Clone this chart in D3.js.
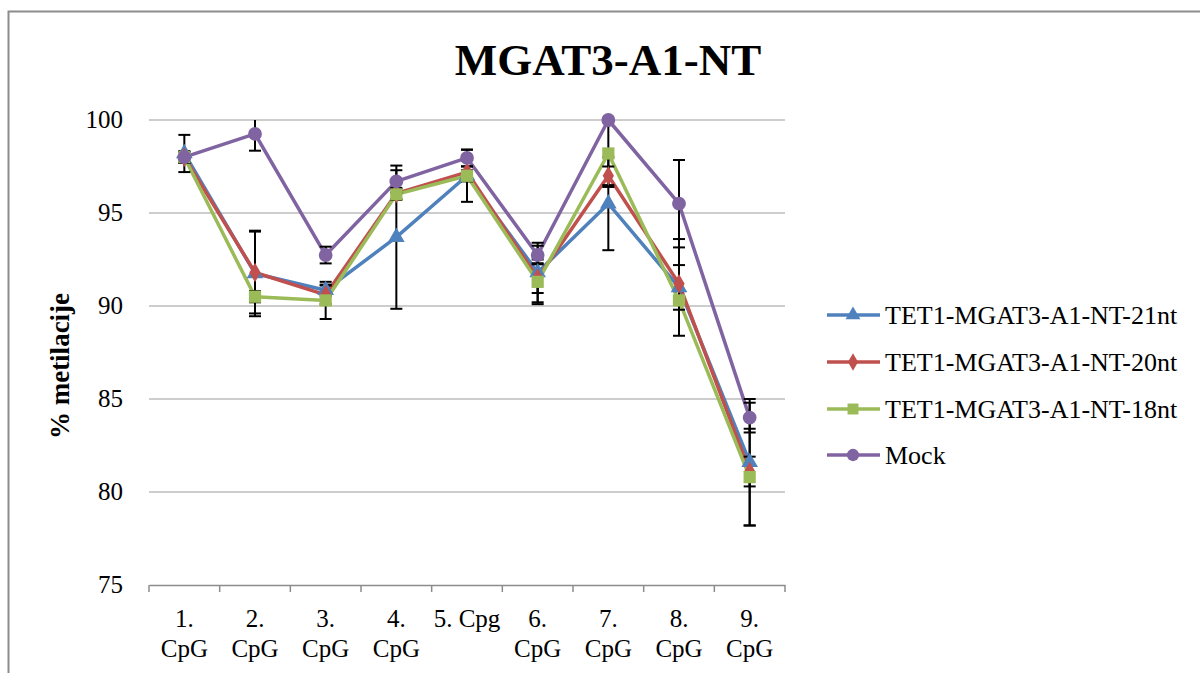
<!DOCTYPE html>
<html>
<head>
<meta charset="utf-8">
<script src="https://cdn.jsdelivr.net/npm/d3@7"></script>
<style>
  body { margin:0; background:#fff; }
  text { font-family: "Liberation Serif", "DejaVu Serif", serif; fill:#000; }
</style>
</head>
<body>
<div id="chart"></div>
<script>
const width = 1200, height = 673;

const categories = ["1. CpG","2. CpG","3. CpG","4. CpG","5. Cpg","6. CpG","7. CpG","8. CpG","9. CpG"];
const yTicks = [75, 80, 85, 90, 95, 100];

const seriesNames = ["TET1-MGAT3-A1-NT-21nt","TET1-MGAT3-A1-NT-20nt","TET1-MGAT3-A1-NT-18nt","Mock"];
const colors = ["#4F81BD","#C0504D","#9BBB59","#8064A2"];
const symbols = [d3.symbolTriangle, d3.symbolDiamond, d3.symbolSquare, d3.symbolCircle];

const val21 = [98.2, 91.75, 90.85, 93.7, 97.0, 91.8, 95.5, 91.0, 81.6];
const val20 = [98.0, 91.8, 90.6, 96.05, 97.2, 91.5, 97.0, 91.2, 81.1];
const val18 = [98.0, 90.5, 90.3, 96.0, 97.0, 91.3, 98.2, 90.3, 80.8];
const valMock = [98.0, 99.25, 92.74, 96.7, 97.96, 92.74, 100, 95.5, 84.0];

const err21 = [1.0, 2.3, 0.3, 3.85, 1.4, 1.6, 2.5, 2.6, 3.4];
const err20 = [0.3, 2.2, 0.5, 0.3, 0.3, 0.8, 0.5, 1.0, 0.8];
const err18 = [0.3, 0.3, 1.0, 0.3, 0.3, 1.2, 1.8, 0.5, 2.6];
const errMock = [0.3, 0.9, 0.45, 0.6, 0.45, 0.5, 0, 2.35, 0.8];

const values = [val21, val20, val18, valMock];
const errors = [err21, err20, err18, errMock];

const svg = d3.select("#chart").append("svg")
  .attr("width", width).attr("height", height);

// outer chart border
svg.append("rect")
  .attr("x", 8.5).attr("y", 11.5)
  .attr("width", 1300).attr("height", 800)
  .attr("fill", "none").attr("stroke", "#8c8c8c").attr("stroke-width", 2);

const x = d3.scaleBand().domain(categories).range([149, 785]);
const y = d3.scaleLinear().domain([75, 100]).range([585, 120]);

// gridlines
svg.append("g").selectAll("line")
  .data(yTicks.filter(t=>t>75))
  .join("line")
  .attr("x1", 149).attr("x2", 785)
  .attr("y1", d=>y(d)).attr("y2", d=>y(d))
  .attr("stroke", "#bcbcbc").attr("stroke-width", 1.5);

// y labels
svg.append("g").selectAll("text")
  .data(yTicks)
  .join("text")
  .attr("x", 123).attr("y", d=>y(d)+8)
  .attr("text-anchor", "end")
  .attr("font-size", 25)
  .text(d=>d);

// x axis
const xAxis = svg.append("g")
  .attr("transform", "translate(0,585)")
  .call(d3.axisBottom(x).tickSize(0).tickFormat(""));
xAxis.select(".domain").attr("stroke", "#8c8c8c").attr("stroke-width", 1.5);
const bounds = categories.map(c=>x(c)).concat([785]);
xAxis.selectAll(".bt").data(bounds).join("line")
  .attr("x1", d=>d).attr("x2", d=>d).attr("y1", 0).attr("y2", 7)
  .attr("stroke", "#8c8c8c").attr("stroke-width", 1.5);

// x labels, wrapped when wider than the band
categories.forEach(c=>{
  const cx = x(c) + x.bandwidth()/2;
  const t = svg.append("text")
    .attr("x", cx).attr("y", 627)
    .attr("text-anchor", "middle")
    .attr("font-size", 25)
    .text(c);
  if (t.node().getComputedTextLength() > x.bandwidth()) {
    const parts = c.split(" ");
    t.text(parts[0]);
    svg.append("text")
      .attr("x", cx).attr("y", 657)
      .attr("text-anchor", "middle")
      .attr("font-size", 25)
      .text(parts.slice(1).join(" "));
  }
});

// y title
svg.append("text")
  .attr("transform", "translate(69,366) rotate(-90)")
  .attr("text-anchor", "middle")
  .attr("font-size", 27)
  .attr("font-weight", "bold")
  .text("% metilacije");

// title
svg.append("text")
  .attr("x", 608).attr("y", 75)
  .attr("text-anchor", "middle")
  .attr("font-size", 45)
  .attr("font-weight", "bold")
  .text("MGAT3-A1-NT");

const cxOf = i => x(categories[i]) + x.bandwidth()/2;
const line = d3.line().x((d,i)=>cxOf(i)).y(d=>y(d));

// lines
svg.append("g").selectAll("path")
  .data(values)
  .join("path")
  .attr("d", d=>line(d))
  .attr("fill", "none")
  .attr("stroke", (d,i)=>colors[i])
  .attr("stroke-width", 3.5)
  .attr("stroke-linejoin", "round");

// error bars
const eb = svg.append("g").attr("stroke", "#000").attr("stroke-width", 2);
values.forEach((vals, s)=>{
  vals.forEach((v, i)=>{
    const e = errors[s][i];
    if (!e) return;
    const cx = cxOf(i);
    const top = Math.max(y(v+e), 120), bot = y(v-e);
    eb.append("line").attr("x1", cx).attr("x2", cx).attr("y1", top).attr("y2", bot);
    if (v+e <= 100) eb.append("line").attr("x1", cx-6).attr("x2", cx+6).attr("y1", top).attr("y2", top);
    eb.append("line").attr("x1", cx-6).attr("x2", cx+6).attr("y1", bot).attr("y2", bot);
  });
});

// markers
const markerSizes = [120, 110, 150, 150];
values.forEach((vals, s)=>{
  svg.append("g").selectAll("path")
    .data(vals)
    .join("path")
    .attr("transform", (d,i)=>`translate(${cxOf(i)},${y(d)})`)
    .attr("d", d3.symbol().type(symbols[s]).size(markerSizes[s]))
    .attr("fill", colors[s]);
});

// legend
const legendY = [315, 362, 409, 455];
const lg = svg.append("g");
seriesNames.forEach((n, i)=>{
  lg.append("line")
    .attr("x1", 827).attr("x2", 880)
    .attr("y1", legendY[i]).attr("y2", legendY[i])
    .attr("stroke", colors[i]).attr("stroke-width", 3.5);
  lg.append("path")
    .attr("transform", `translate(853,${legendY[i]})`)
    .attr("d", d3.symbol().type(symbols[i]).size(markerSizes[i]*0.8))
    .attr("fill", colors[i]);
  lg.append("text")
    .attr("x", 885).attr("y", legendY[i]+9)
    .attr("font-size", 26)
    .text(n);
});
</script>
</body>
</html>
